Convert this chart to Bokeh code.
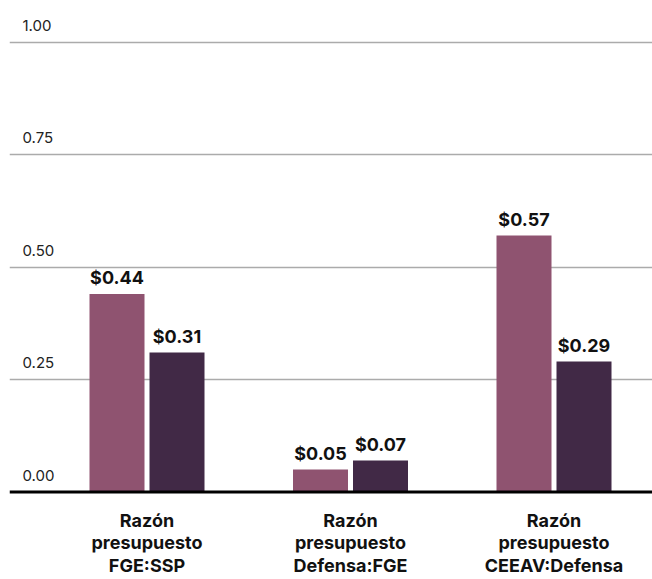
from bokeh.plotting import figure
from bokeh.models import Range1d, FixedTicker, ColumnDataSource, Span
from bokeh.core.properties import value
from bokeh.embed import file_html
from bokeh.resources import INLINE

# Budget ratios, two series per category
categories = ["Razón\npresupuesto\nFGE:SSP",
              "Razón\npresupuesto\nDefensa:FGE",
              "Razón\npresupuesto\nCEEAV:Defensa"]
series_a = [0.44, 0.05, 0.57]
series_b = [0.31, 0.07, 0.29]
y_ticks = [0.0, 0.25, 0.5, 0.75, 1.0]

color_a = "#8F5370"
color_b = "#412946"
font = "Inter"

W, H = 652, 579
left_pad = 9
baseline_px = 491.5          # distance of the zero line from the top
px_per_group = 203.5
first_center_px = 146.5 - left_pad
px_per_unit_y = 450.0

x_start = -first_center_px / px_per_group
x_end = x_start + (W - left_pad) / px_per_group
y_end = baseline_px / px_per_unit_y
y_start = -(H - baseline_px) / px_per_unit_y

p = figure(width=W, height=H, output_backend="svg", toolbar_location=None,
           x_range=Range1d(x_start, x_end), y_range=Range1d(y_start, y_end),
           min_border_left=left_pad, min_border_right=0, min_border_top=0,
           min_border_bottom=0)
p.outline_line_color = None
p.background_fill_color = "white"
p.border_fill_color = "white"
p.xaxis.visible = False
p.yaxis.visible = False
p.xgrid.visible = False
p.ygrid.ticker = FixedTicker(ticks=y_ticks[1:])
p.ygrid.grid_line_color = "#ababab"
p.ygrid.grid_line_width = 1.5

bar_w = 55 / px_per_group
offset = 30 / px_per_group
xs = list(range(len(categories)))
xa = [x - offset for x in xs]
xb = [x + offset for x in xs]

src_a = ColumnDataSource(dict(x=xa, top=series_a,
                              label=[f"${v:.2f}" for v in series_a]))
src_b = ColumnDataSource(dict(x=xb, top=series_b,
                              label=[f"${v:.2f}" for v in series_b]))

p.vbar(x="x", top="top", width=bar_w, bottom=0, source=src_a,
       fill_color=color_a, line_color=None)
p.vbar(x="x", top="top", width=bar_w, bottom=0, source=src_b,
       fill_color=color_b, line_color=None)

# zero line
p.add_layout(Span(location=0, dimension="width", line_color="black",
                  line_width=3))

for src in (src_a, src_b):
    p.text(x="x", y="top", text="label", source=src, text_align="center",
           text_baseline="bottom", y_offset=-6, text_font=value(font),
           text_font_style="bold", text_font_size="18px", text_color="#111111")

# y tick labels sit just above each gridline, near the left edge
tick_src = ColumnDataSource(dict(x=[x_start] * len(y_ticks), y=y_ticks,
                                 label=[f"{t:.2f}" for t in y_ticks]))
p.text(x="x", y="y", text="label", source=tick_src, text_align="left",
       text_baseline="alphabetic", x_offset=13, y_offset=-17,
       text_font=value(font), text_font_size="15px", text_color="#222222")

# category names under the zero line
cat_src = ColumnDataSource(dict(x=xs, y=[0] * len(xs), label=categories))
p.text(x="x", y="y", text="label", source=cat_src, text_align="center",
       text_baseline="top", y_offset=18, text_font=value(font),
       text_font_style="bold", text_font_size="18px", text_color="#111111",
       text_line_height=1.06)

open("out.html", "w").write(file_html(p, INLINE))
